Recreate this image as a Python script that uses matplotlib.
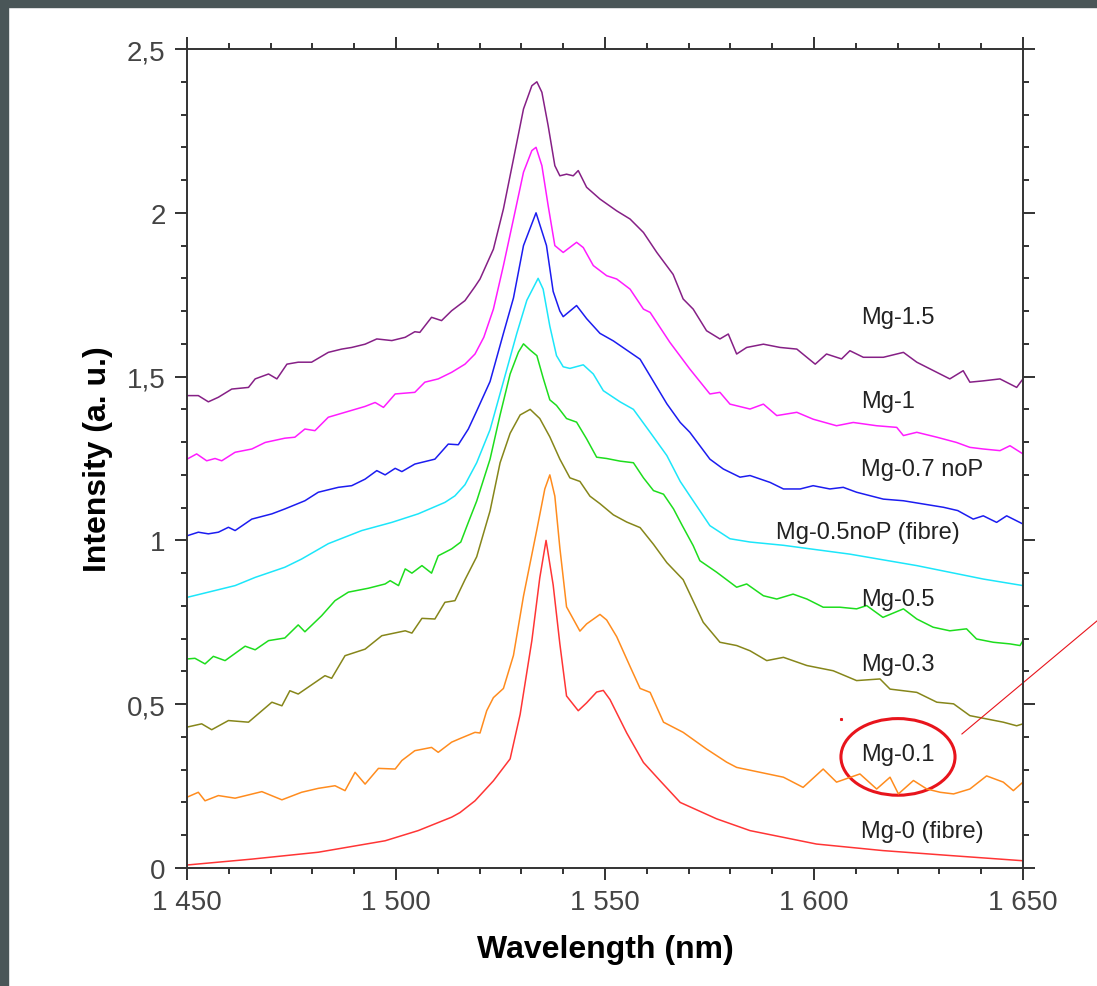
import numpy as np
import matplotlib
matplotlib.use("Agg")
import matplotlib.pyplot as plt
from matplotlib.patches import Ellipse, Rectangle
from matplotlib.ticker import MultipleLocator, FuncFormatter

plt.rcParams['font.family'] = ['Liberation Sans', 'DejaVu Sans']

# spectra: (wavelength nm, intensity a.u.)
mg0 = [(1450, 0.009), (1465.5, 0.027), (1481.4, 0.048), (1497.4, 0.083), (1505.3, 0.114),
       (1513.3, 0.155), (1515.3, 0.169), (1518.9, 0.205), (1523.3, 0.266), (1527.3, 0.333),
       (1529.7, 0.469), (1532.5, 0.694), (1534.4, 0.886), (1535.9, 1.0), (1537.6, 0.864),
       (1539.2, 0.684), (1540.8, 0.525), (1543.6, 0.48), (1545.6, 0.504), (1548, 0.537),
       (1549.6, 0.542), (1551.2, 0.514), (1555.2, 0.412), (1559.2, 0.322), (1563.2, 0.266),
       (1568, 0.2), (1576.7, 0.15), (1584.7, 0.114), (1600.6, 0.073), (1616.5, 0.053),
       (1632.5, 0.038), (1650, 0.022)]

mg01 = [(1450, 0.216), (1452.7, 0.231), (1454.3, 0.205), (1457.5, 0.221), (1461.5, 0.213),
        (1467.9, 0.233), (1472.7, 0.208), (1477.4, 0.231), (1481.4, 0.243), (1485.4, 0.251),
        (1487.8, 0.236), (1490.2, 0.292), (1492.6, 0.256), (1495.8, 0.304), (1499.8, 0.302),
        (1501.4, 0.328), (1504.5, 0.358), (1508.5, 0.368), (1510.1, 0.353), (1513.3, 0.384),
        (1515.3, 0.395), (1518.9, 0.414), (1520.1, 0.412), (1521.7, 0.48), (1523.3, 0.52),
        (1525.7, 0.548), (1528.1, 0.649), (1530.5, 0.83), (1533.7, 1.033), (1535.6, 1.157),
        (1536.8, 1.2), (1538, 1.135), (1539.2, 0.977), (1540.8, 0.797), (1544, 0.723),
        (1545.6, 0.745), (1548.8, 0.774), (1550.4, 0.757), (1552.8, 0.706), (1556, 0.615),
        (1558.4, 0.548), (1560.8, 0.536), (1564, 0.445), (1568.7, 0.414), (1574.3, 0.363),
        (1579.1, 0.323), (1581.5, 0.307), (1587.1, 0.292), (1592.7, 0.277), (1597.4, 0.246),
        (1602.2, 0.302), (1605.4, 0.262), (1611, 0.287), (1615, 0.241), (1618.2, 0.277),
        (1620.2, 0.226), (1623.8, 0.267), (1627, 0.241), (1630.2, 0.231), (1633.4, 0.226),
        (1637.3, 0.241), (1641.3, 0.281), (1645.3, 0.262), (1647.7, 0.236), (1650, 0.262)]

mg03 = [(1450, 0.43), (1453.5, 0.44), (1455.9, 0.422), (1459.9, 0.45), (1464.7, 0.445),
        (1470.3, 0.506), (1472.7, 0.495), (1474.6, 0.541), (1476.6, 0.531), (1483, 0.587),
        (1484.6, 0.579), (1487.8, 0.648), (1492.6, 0.668), (1496.6, 0.709), (1502.2, 0.724),
        (1503.8, 0.717), (1506.2, 0.762), (1509.3, 0.76), (1511.7, 0.811), (1514.1, 0.816),
        (1516.5, 0.88), (1519.3, 0.95), (1522.5, 1.09), (1524.9, 1.237), (1527.3, 1.327),
        (1529.7, 1.383), (1532.1, 1.4), (1534.4, 1.372), (1536.8, 1.316), (1539.2, 1.248),
        (1541.6, 1.191), (1544, 1.18), (1546.4, 1.135), (1548.8, 1.112), (1552, 1.078),
        (1555.2, 1.056), (1558.4, 1.039), (1561.6, 0.988), (1564.8, 0.932), (1568.7, 0.88),
        (1573.5, 0.75), (1577.5, 0.689), (1581.5, 0.679), (1584.7, 0.663), (1588.7, 0.633),
        (1592.7, 0.643), (1598.3, 0.618), (1604.6, 0.602), (1610.2, 0.572), (1615.8, 0.577),
        (1618.2, 0.546), (1624.6, 0.536), (1629.4, 0.506), (1633.4, 0.501), (1637.3, 0.465),
        (1641.3, 0.455), (1645.3, 0.445), (1648.5, 0.434), (1650, 0.44)]

mg05 = [(1450, 0.638), (1451.9, 0.64), (1454.3, 0.623), (1456.3, 0.646), (1459.1, 0.633),
        (1463.9, 0.677), (1466.3, 0.666), (1469.5, 0.694), (1473.4, 0.702), (1476.6, 0.742),
        (1478.2, 0.721), (1482.2, 0.77), (1485.4, 0.816), (1488.6, 0.842), (1493.4, 0.854),
        (1497.4, 0.867), (1498.6, 0.877), (1500.6, 0.862), (1502.2, 0.913), (1503.8, 0.9),
        (1506.2, 0.923), (1508.5, 0.9), (1510.1, 0.953), (1513.3, 0.974), (1515.5, 0.995),
        (1517.3, 1.055), (1519.3, 1.12), (1522.5, 1.248), (1524.9, 1.383), (1527.3, 1.508),
        (1529.3, 1.575), (1530.5, 1.6), (1532.1, 1.581), (1533.7, 1.564), (1535.2, 1.496),
        (1536.8, 1.429), (1538.4, 1.412), (1540.8, 1.372), (1543.2, 1.361), (1545.6, 1.31),
        (1548, 1.254), (1550.4, 1.25), (1553.6, 1.242), (1556.8, 1.237), (1559.2, 1.191),
        (1561.6, 1.152), (1564, 1.141), (1566.4, 1.096), (1568.5, 1.045), (1571.1, 0.984),
        (1572.7, 0.938), (1576.7, 0.903), (1581.5, 0.857), (1583.9, 0.867), (1587.9, 0.831),
        (1591.1, 0.821), (1595, 0.836), (1598.3, 0.821), (1602.2, 0.796), (1606.2, 0.796),
        (1610.2, 0.791), (1612.6, 0.801), (1616.5, 0.765), (1621.4, 0.791), (1624.6, 0.76),
        (1628.5, 0.735), (1632.5, 0.724), (1636.5, 0.73), (1638.9, 0.699), (1642.9, 0.689),
        (1646.9, 0.684), (1649.3, 0.679), (1650, 0.694)]

mg05nop = [(1450, 0.826), (1461.5, 0.862), (1466.3, 0.887), (1473.4, 0.918), (1477.4, 0.943),
           (1483.8, 0.99), (1491.8, 1.03), (1499, 1.055), (1505.3, 1.081), (1511.7, 1.116),
           (1514.1, 1.136), (1516.5, 1.17), (1519.3, 1.237), (1522.5, 1.338), (1525.7, 1.485),
           (1528.9, 1.632), (1531.3, 1.733), (1534, 1.8), (1535.2, 1.767), (1536.8, 1.654),
           (1538.4, 1.564), (1540, 1.53), (1541.6, 1.525), (1544.8, 1.536), (1547.2, 1.508),
           (1549.6, 1.457), (1553.6, 1.423), (1556.8, 1.4), (1560.8, 1.33), (1564.8, 1.259),
           (1568, 1.18), (1570.3, 1.136), (1575.1, 1.045), (1579.9, 1.005), (1584.7, 0.995),
           (1592.7, 0.985), (1608.6, 0.958), (1624.6, 0.923), (1640.5, 0.882), (1650, 0.862)]

mg07nop = [(1450, 1.014), (1452.7, 1.025), (1455.1, 1.02), (1457.5, 1.025), (1459.9, 1.04),
           (1461.5, 1.03), (1465.5, 1.065), (1470.3, 1.081), (1473.4, 1.096), (1478.2, 1.121),
           (1481.4, 1.147), (1486.2, 1.162), (1489.4, 1.167), (1492.6, 1.187), (1495.4, 1.213),
           (1497.4, 1.2), (1499.8, 1.22), (1501.4, 1.21), (1504.5, 1.233), (1509.3, 1.248),
           (1512.5, 1.294), (1514.9, 1.292), (1517.3, 1.34), (1519.3, 1.395), (1522.5, 1.485),
           (1525.7, 1.632), (1528.1, 1.74), (1530.5, 1.9), (1533.5, 2.0), (1536, 1.9),
           (1537.6, 1.76), (1539.2, 1.7), (1540, 1.683), (1543.2, 1.717), (1545.6, 1.677),
           (1548.8, 1.632), (1552, 1.609), (1555.2, 1.581), (1558.4, 1.553), (1561.6, 1.485),
           (1564.8, 1.417), (1568, 1.36), (1570.3, 1.33), (1575.1, 1.248), (1578.3, 1.218),
           (1582.3, 1.193), (1584.7, 1.198), (1589.5, 1.177), (1592.7, 1.157), (1596.7, 1.157),
           (1599.8, 1.167), (1603.8, 1.157), (1607, 1.162), (1610.2, 1.147), (1616.6, 1.126),
           (1621.4, 1.121), (1626.2, 1.111), (1631, 1.101), (1634.4, 1.091), (1638.1, 1.065),
           (1640.5, 1.075), (1643.7, 1.055), (1646.1, 1.075), (1650, 1.05)]

mg1 = [(1450, 1.248), (1452.3, 1.264), (1454.7, 1.243), (1456.7, 1.25), (1458.3, 1.243),
       (1461.5, 1.269), (1465.5, 1.279), (1468.7, 1.299), (1473.4, 1.312), (1475.8, 1.315),
       (1478.2, 1.34), (1480.6, 1.335), (1483.8, 1.376), (1487.8, 1.391), (1492.6, 1.409),
       (1495, 1.421), (1497, 1.406), (1499.8, 1.447), (1504.5, 1.452), (1506.9, 1.483),
       (1510.1, 1.493), (1513.3, 1.513), (1516.5, 1.538), (1518.9, 1.569), (1521, 1.62),
       (1523.3, 1.706), (1525.7, 1.839), (1528.1, 1.981), (1530.5, 2.124), (1532.5, 2.19),
       (1533.5, 2.2), (1534.9, 2.144), (1536.4, 2.022), (1538, 1.9), (1540, 1.879),
       (1543.2, 1.91), (1544.8, 1.894), (1547.2, 1.839), (1550.4, 1.808), (1552.8, 1.798),
       (1556, 1.767), (1559.2, 1.706), (1560.8, 1.696), (1565.5, 1.605), (1570.3, 1.523),
       (1575.1, 1.447), (1577.5, 1.452), (1579.9, 1.416), (1584.7, 1.401), (1587.9, 1.416),
       (1591.1, 1.381), (1595.9, 1.391), (1599.8, 1.37), (1605.4, 1.35), (1609.4, 1.36),
       (1615, 1.35), (1619.8, 1.345), (1621.4, 1.32), (1624.6, 1.33), (1629.4, 1.315),
       (1634.1, 1.299), (1637.3, 1.284), (1640.5, 1.279), (1644.5, 1.274), (1646.9, 1.289),
       (1650, 1.264)]

mg15 = [(1450, 1.442), (1452.7, 1.442), (1455.1, 1.423), (1457.5, 1.437), (1460.7, 1.462),
        (1464.7, 1.467), (1466.3, 1.493), (1469.5, 1.508), (1471.5, 1.493), (1473.9, 1.538),
        (1476.6, 1.544), (1479.8, 1.544), (1483.8, 1.574), (1487, 1.584), (1489.4, 1.589),
        (1492.6, 1.599), (1495.4, 1.615), (1499, 1.61), (1502.2, 1.62), (1504.5, 1.637),
        (1505.7, 1.635), (1508.5, 1.681), (1510.9, 1.671), (1513.3, 1.701), (1516.5, 1.732),
        (1518.9, 1.775), (1520.1, 1.798), (1523.3, 1.889), (1525.7, 2.012), (1528.1, 2.164),
        (1530.5, 2.317), (1532.5, 2.388), (1533.7, 2.4), (1534.9, 2.368), (1536.4, 2.266),
        (1538, 2.144), (1539.2, 2.113), (1540.8, 2.118), (1542.4, 2.113), (1543.6, 2.129),
        (1545.6, 2.078), (1548.8, 2.042), (1552.8, 2.006), (1556, 1.981), (1559.2, 1.94),
        (1562.4, 1.879), (1566.3, 1.812), (1568.7, 1.737), (1571.1, 1.706), (1574.3, 1.64),
        (1577.5, 1.615), (1579.5, 1.63), (1581.5, 1.569), (1583.9, 1.589), (1587.9, 1.599),
        (1591.9, 1.589), (1595.9, 1.584), (1600.3, 1.538), (1603, 1.569), (1606.6, 1.554),
        (1608.6, 1.579), (1611.8, 1.559), (1616.6, 1.559), (1621.4, 1.574), (1624.6, 1.544),
        (1629.4, 1.513), (1632.5, 1.493), (1635.7, 1.518), (1637.3, 1.483), (1640.5, 1.487),
        (1644.5, 1.493), (1648.5, 1.467), (1650, 1.493)]

series = [
    (mg0, '#ff3535', 'Mg-0 (fibre)', (1611.2, 0.114)),
    (mg01, '#ff8c1e', 'Mg-0.1', (1611.2, 0.348)),
    (mg03, '#86861a', 'Mg-0.3', (1611.2, 0.623)),
    (mg05, '#1ddd1d', 'Mg-0.5', (1611.2, 0.821)),
    (mg05nop, '#1ce6fa', 'Mg-0.5noP (fibre)', (1590.9, 1.025)),
    (mg07nop, '#1c1cf0', 'Mg-0.7 noP', (1611.2, 1.218)),
    (mg1, '#ff1cff', 'Mg-1', (1611.2, 1.426)),
    (mg15, '#862086', 'Mg-1.5', (1611.2, 1.682)),
]

fig = plt.figure(figsize=(10.97, 9.87), dpi=100)
ax = fig.add_axes([0.1705, 0.1196, 0.762, 0.8297])

for data, col, name, pos in series:
    arr = np.array(data).T
    ax.plot(arr[0], arr[1], color=col, lw=1.1)
    ax.text(pos[0], pos[1], name, fontsize=17, color='#222222', ha='left', va='center')

ax.set_xlim(1450, 1650)
ax.set_ylim(0, 2.5)
ax.xaxis.set_major_locator(MultipleLocator(50))
ax.xaxis.set_minor_locator(MultipleLocator(10))
ax.yaxis.set_major_locator(MultipleLocator(0.5))
ax.yaxis.set_minor_locator(MultipleLocator(0.1))
ax.xaxis.set_major_formatter(FuncFormatter(lambda v, p: '{:,}'.format(int(round(v))).replace(',', ' ')))
ax.yaxis.set_major_formatter(FuncFormatter(lambda v, p: ('%g' % v).replace('.', ',')))

ax.tick_params(which='both', direction='out', top=True, right=True, color='#333333',
               labelcolor='#444444', labelsize=20)
ax.tick_params(which='major', length=8.5, width=1.4, pad=7)
ax.tick_params(which='minor', length=4.5, width=1.4)
for s in ax.spines.values():
    s.set_linewidth(1.4)
    s.set_color('#333333')

ax.set_xlabel('Wavelength (nm)', fontsize=23, fontweight='bold', labelpad=13)
ax.set_ylabel('Intensity (a. u.)', fontsize=23, fontweight='bold', labelpad=10)

# red highlight around Mg-0.1
ax.add_patch(Ellipse((1620.1, 0.339), 27.3, 0.234, fill=False, edgecolor='#e8141c',
                     lw=2.2, clip_on=False))
ax.plot([1635.4, 1667.7], [0.409, 0.754], color='#e8141c', lw=0.8, clip_on=False)
ax.plot([1606.5], [0.455], marker='s', ms=1.2, color='#e8141c', clip_on=False)

# dark frame at top and left edges
fig.patches.append(Rectangle((0, 1 - 8 / 987), 1, 8 / 987, transform=fig.transFigure,
                             color='#4a5658', zorder=10))
fig.patches.append(Rectangle((0, 0), 8 / 1097, 1, transform=fig.transFigure,
                             color='#4a5658', zorder=10))

fig.savefig('out.png', dpi=100)
